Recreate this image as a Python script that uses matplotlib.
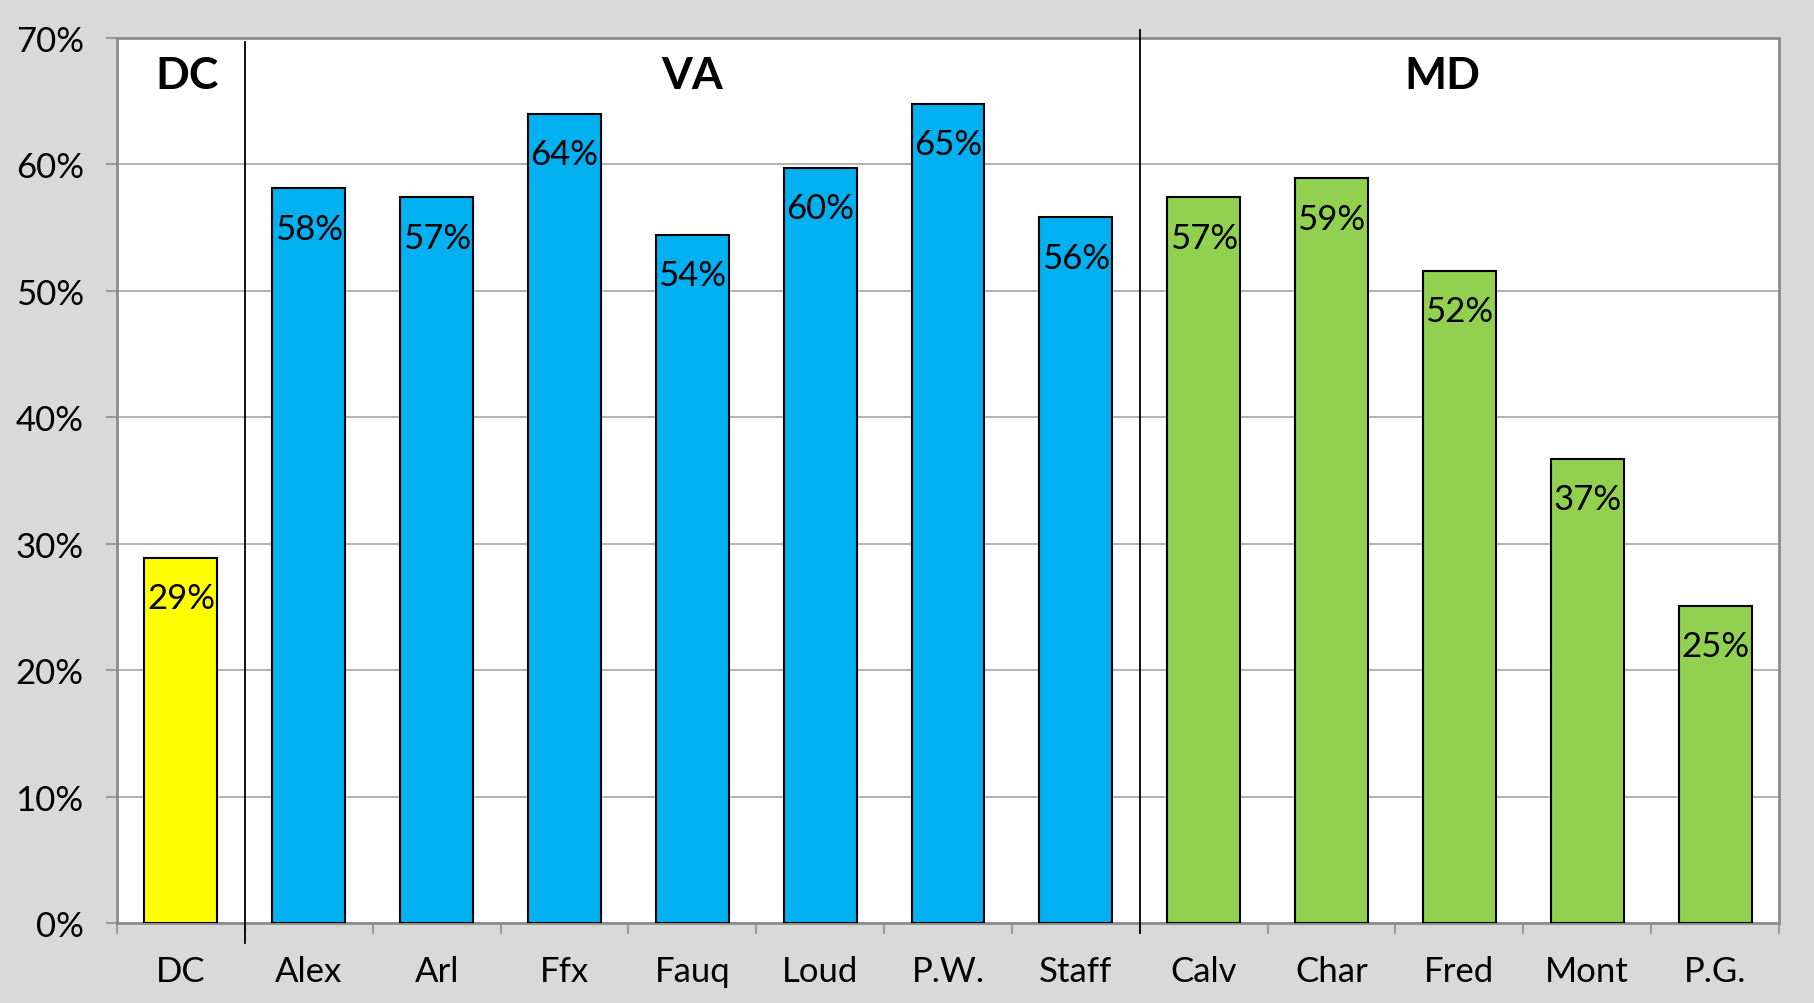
import numpy as np
import matplotlib.pyplot as plt
from matplotlib.ticker import FixedLocator, PercentFormatter

plt.rcParams['font.family'] = ['Lato', 'DejaVu Sans']

# data
areas = ['DC', 'Alex', 'Arl', 'Ffx', 'Fauq', 'Loud', 'P.W.', 'Staff',
         'Calv', 'Char', 'Fred', 'Mont', 'P.G.']
shares = [28.9, 58.1, 57.4, 64.0, 54.4, 59.7, 64.8, 55.8,
          57.4, 58.9, 51.6, 36.7, 25.1]
groups = ['DC', 'VA', 'MD']
group_sizes = [1, 7, 5]
group_colors = ['#FFFF00', '#00B0F0', '#92D050']

colors = []
for c, n in zip(group_colors, group_sizes):
    colors += [c] * n

fig = plt.figure(figsize=(18.14, 10.04), dpi=100, facecolor='#D9D9D9')
ax = fig.add_axes([0.0645, 0.0797, 0.9162, 0.8815])
ax.set_facecolor('white')

x = np.arange(len(areas))
bars = ax.bar(x, shares, width=0.57, color=colors, edgecolor='black',
              linewidth=1.5, zorder=3)

for b, v in zip(bars, shares):
    ax.annotate(f'{v:.0f}%', (b.get_x() + b.get_width() / 2, v),
                xytext=(0, -29), textcoords='offset points',
                ha='center', va='center', fontsize=25, zorder=4)

ax.set_xlim(-0.5, len(areas) - 0.5)
ax.set_ylim(0, 70)
ax.yaxis.set_major_locator(FixedLocator(np.arange(0, 71, 10)))
ax.yaxis.set_major_formatter(PercentFormatter(decimals=0))
ax.grid(axis='y', color='#A6A6A6', linewidth=1.2, zorder=0)

ax.set_xticks(x)
ax.set_xticklabels(areas)
ax.xaxis.set_minor_locator(FixedLocator(np.arange(-0.5, len(areas), 1)))
ax.tick_params(axis='x', which='major', length=0, pad=23, labelsize=25)
ax.tick_params(axis='x', which='minor', length=8, width=1.5, color='#9A9A9A')
ax.tick_params(axis='y', length=8, width=1.5, color='#9A9A9A', pad=16,
               labelsize=25)

for s in ax.spines.values():
    s.set_color('#8C8C8C')
    s.set_linewidth(2)

# group separators and titles
edges = np.cumsum(group_sizes)[:-1] - 0.5
ax.plot([edges[0]] * 2, [69.7, -1.6], color='black', lw=1.3,
        clip_on=False, zorder=5)
ax.plot([edges[1]] * 2, [70.6, -0.8], color='black', lw=1.3,
        clip_on=False, zorder=5)

start = 0
for g, n in zip(groups, group_sizes):
    cx = start + (n - 1) / 2
    if g == 'DC':
        cx += 0.05
    elif g == 'MD':
        cx -= 0.13
    ax.text(cx, 67.1, g, ha='center', va='center', fontsize=32,
            fontweight='bold', zorder=5)
    start += n

fig.savefig('out.png', dpi=100, facecolor=fig.get_facecolor())
